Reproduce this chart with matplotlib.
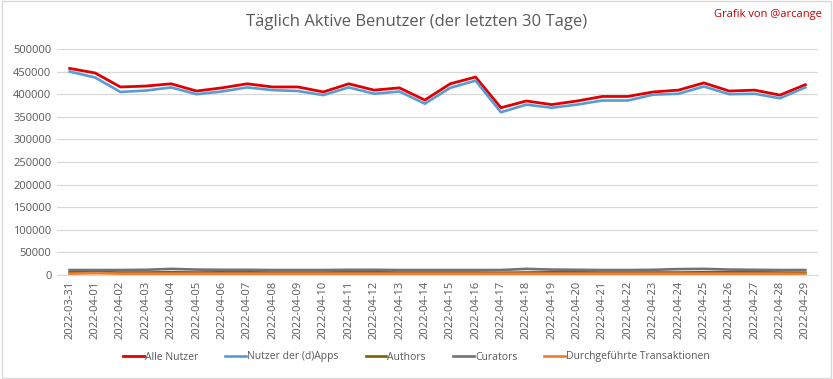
import matplotlib
matplotlib.use("Agg")
import matplotlib.pyplot as plt
import pandas as pd

dates = [d.strftime("%Y-%m-%d") for d in pd.date_range("2022-03-31", "2022-04-29")]

alle_nutzer = [457000, 447000, 416000, 418000, 423000, 407000, 414000, 423000, 416000, 416000,
               405000, 423000, 409000, 414000, 387000, 423000, 438000, 370000, 385000, 377000,
               385000, 395000, 395000, 405000, 409000, 425000, 407000, 409000, 398000, 421000]
dapps = [450000, 437000, 405000, 408000, 415000, 400000, 406000, 415000, 409000, 407000,
         398000, 415000, 401000, 406000, 379000, 414000, 430000, 360000, 377000, 370000,
         377000, 386000, 386000, 399000, 401000, 417000, 400000, 401000, 391000, 415000]
authors = [6000, 6500, 5500, 5500, 6000, 5500, 6000, 6000, 5500, 5500,
           5500, 6000, 6000, 5500, 5500, 5500, 5500, 5000, 5500, 6000,
           6000, 5500, 5500, 5500, 5500, 6000, 6000, 6000, 5500, 5000]
curators = [11000, 11000, 11000, 11500, 13500, 12000, 11500, 11500, 11000, 11000,
            11000, 11500, 11500, 11000, 11000, 11000, 11000, 11000, 13500, 12000,
            11500, 11000, 11000, 11500, 13000, 13500, 12000, 11500, 11000, 11000]
transaktionen = [3000, 4000, 3000, 3000, 3000, 3000, 3000, 3000, 3000, 3000,
                 3000, 3000, 3000, 3000, 3000, 3000, 3000, 3000, 3000, 3000,
                 3000, 3000, 3000, 3000, 3000, 3000, 3000, 3000, 3000, 2500]

series = [
    ("Alle Nutzer", alle_nutzer, "#E00000", 2.0),
    ("Nutzer der (d)Apps", dapps, "#5B9BD5", 1.9),
    ("Authors", authors, "#7F6000", 1.9),
    ("Curators", curators, "#767171", 1.9),
    ("Durchgeführte Transaktionen", transaktionen, "#ED7D31", 1.9),
]

plt.rcParams['font.family'] = ['Open Sans', 'DejaVu Sans']

fig = plt.figure(figsize=(8.33, 3.79), dpi=100)
ax = fig.add_axes([57/833, 1-275/379, (818-57)/833, (275-49)/379])

x = list(range(len(dates)))
handles = []
for name, vals, color, lw in series:
    h, = ax.plot(x, vals, color=color, lw=lw, label=name, solid_joinstyle="round")
    handles.append(h)

ax.set_xlim(-0.5, len(dates) - 0.5)
ax.set_ylim(0, 500000)
ax.set_yticks(range(0, 500001, 50000))
ax.set_yticklabels([str(v) for v in range(0, 500001, 50000)], fontsize=8, color="#595959")
ax.set_xticks(x)
ax.set_xticklabels(dates, rotation=90, fontsize=8, color="#595959")
ax.tick_params(axis="both", length=0, pad=4)
ax.grid(axis="y", color="#D9D9D9", lw=0.9)
ax.set_axisbelow(True)
for s in ["top", "right", "left"]:
    ax.spines[s].set_visible(False)
ax.spines["bottom"].set_color("#D9D9D9")

fig.text(0.5, 1-22/379, "Täglich Aktive Benutzer (der letzten 30 Tage)", ha="center", va="center",
         fontsize=12, color="#595959")
fig.text(822/833, 1-15/379, "Grafik von @arcange", ha="right", va="center", fontsize=8, color="#C00000")

fig.legend(handles=handles, loc="center", bbox_to_anchor=(0.5, 1-357/379), ncol=5, frameon=False,
           fontsize=7.5, handlelength=2.0, columnspacing=2.6, handletextpad=0.1,
           labelcolor="#595959")

border = plt.Rectangle((0.002, 0.003), 0.995, 0.994, transform=fig.transFigure, fill=False,
                       edgecolor="#D9D9D9", lw=1)
fig.add_artist(border)

fig.savefig("out.png", dpi=100, facecolor="white")
